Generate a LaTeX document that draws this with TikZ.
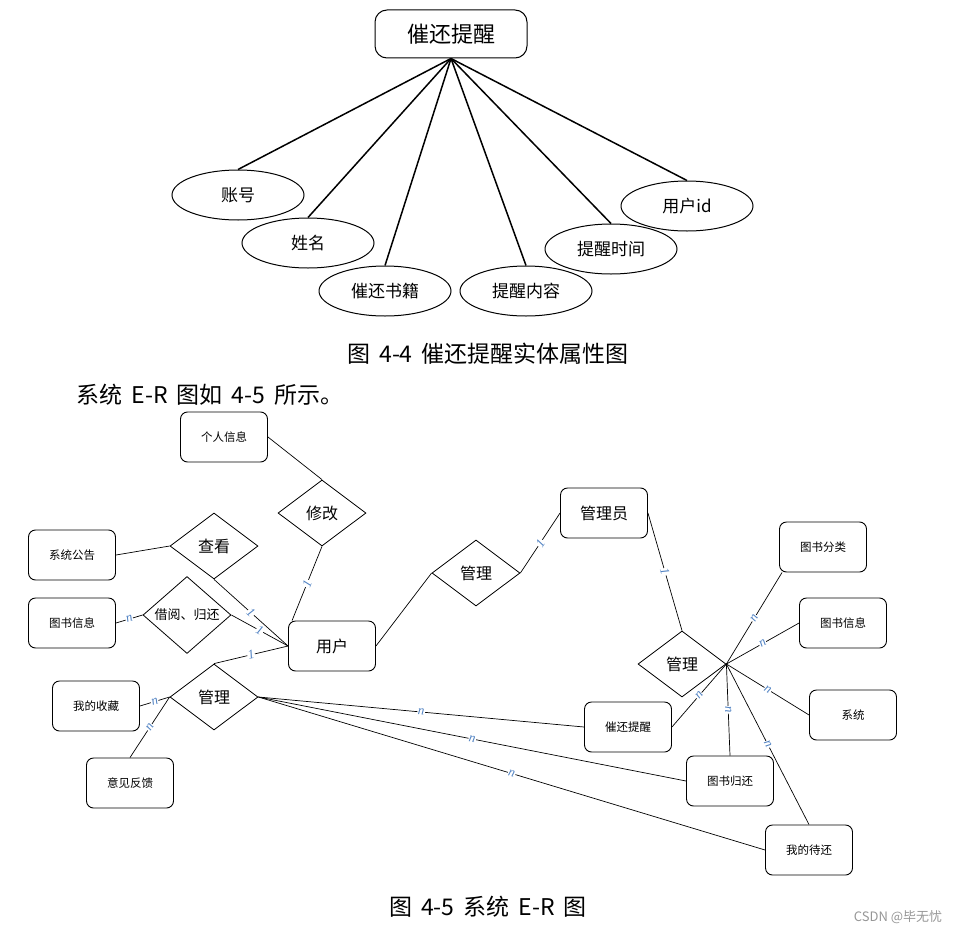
\documentclass[tikz,border=0pt]{standalone}
\usepackage{fontspec}
\newfontfamily\cjk{Noto Sans CJK SC}
\newfontfamily\cardf{Liberation Serif}
\usetikzlibrary{shapes.geometric}
\definecolor{cardblue}{RGB}{80,130,195}
\definecolor{wmgray}{RGB}{150,150,150}
\newcommand\gapsp{\hspace{9pt}}
\begin{document}
\begin{tikzpicture}[x=1pt,y=-1pt,
  ent/.style={draw, rounded corners=7pt, line width=0.9pt, minimum width=87pt, minimum height=50pt, inner sep=0pt, font=\cjk\fontsize{11.5}{12}\selectfont},
  bigent/.style={ent, font=\cjk\fontsize{16}{16}\selectfont},
  rel/.style={diamond, draw, line width=0.8pt, minimum width=88pt, minimum height=66pt, inner sep=0pt, font=\cjk\fontsize{16}{16}\selectfont},
  attr/.style={ellipse, draw, line width=1pt, minimum width=132pt, minimum height=50pt, inner sep=0pt, font=\cjk\fontsize{17}{17}\selectfont},
  spoke/.style={line width=1.5pt},
  conn/.style={line width=0.7pt},
  card/.style={font=\cardf\itshape\fontsize{13}{13}\selectfont, text=cardblue, sloped, inner sep=0.5pt, fill=white},
  capt/.style={font=\cjk\fontsize{23}{23}\selectfont}
]
\useasboundingbox (0,0) rectangle (963,934);

% ---------- attribute diagram ----------
\node[draw, rounded corners=12pt, line width=1pt, minimum width=152pt, minimum height=48pt, inner sep=0pt,
      font=\cjk\fontsize{22}{22}\selectfont] (cr) at (451,34) {催还提醒};
\node[attr] (zh)  at (238,195) {账号};
\node[attr] (xm)  at (308,243) {姓名};
\node[attr] (cs)  at (385,291) {催还书籍};
\node[attr] (tn)  at (526,291) {提醒内容};
\node[attr] (ts)  at (611,249) {提醒时间};
\node[attr] (yid) at (687,206) {用户id};
\foreach \n in {zh,xm,cs,tn,ts,yid}
  \draw[spoke] (cr.south) -- (\n.north);

\node[capt] (cap1) at (488,354) {图\gapsp 4-4\gapsp 催还提醒实体属性图};
\node[capt, anchor=west] (para) at (73,395) {系统\gapsp E-R\gapsp 图如\gapsp 4-5\gapsp 所示。};

% ---------- E-R diagram ----------
\node[ent] (gr)  at (224,437) {个人信息};
\node[rel] (xg)  at (322,513) {修改};
\node[rel] (ck)  at (214,546) {查看};
\node[ent] (xt)  at (72,555)  {系统公告};
\node[ent] (ts1) at (72,623)  {图书信息};
\node[rel, font=\cjk\fontsize{13}{13}\selectfont] (jy) at (187,615) {借阅、归还};
\node[bigent] (yh) at (332,646) {用户};
\node[rel] (gl1) at (214,697) {管理};
\node[ent] (sc)  at (96,706)  {我的收藏};
\node[ent] (yj)  at (130,783) {意见反馈};
\node[rel] (gl2) at (476,573) {管理};
\node[bigent] (gly) at (604,513) {管理员};
\node[rel] (gl3) at (682,664) {管理};
\node[ent] (fl)  at (823,547) {图书分类};
\node[ent] (ts2) at (843,623) {图书信息};
\node[ent] (xtt) at (853,715) {系统};
\node[ent] (dh)  at (809,850) {我的待还};
\node[ent] (gh)  at (730,781) {图书归还};
\node[ent] (cx)  at (628,727) {催还提醒};

\draw[conn] (gr.east) -- (xg.north);
\draw[conn] (xg.south) -- node[card]{1} ([xshift=4pt]yh.north west);
\draw[conn] (xt.east) -- (ck.west);
\draw[conn] (ck.south) -- node[card]{1} (yh.west);
\draw[conn] (ts1.east) -- node[card]{n} (jy.west);
\draw[conn] (jy.east) -- node[card]{1} (yh.west);
\draw[conn] (gl1.north) -- node[card]{1} (yh.west);
\draw[conn] (sc.east) -- node[card]{n} (gl1.west);
\draw[conn] (yj.north) -- node[card]{n} (gl1.west);
\draw[conn] (gl1.east) -- node[card]{n} (cx.west);
\draw[conn] (gl1.east) -- node[card]{n} (gh.west);
\draw[conn] (gl1.east) -- node[card]{n} (dh.west);
\draw[conn] (yh.east) -- (gl2.west);
\draw[conn] (gl2.east) -- node[card]{1} (gly.west);
\draw[conn] (gly.east) -- node[card]{1} (gl3.north);
\draw[conn] (gl3.east) -- node[card]{n} ([xshift=3pt]fl.south west);
\draw[conn] (gl3.east) -- node[card]{n} (ts2.west);
\draw[conn] (gl3.east) -- node[card]{n} (xtt.west);
\draw[conn] (gl3.east) -- node[card]{n} (dh.north);
\draw[conn] (gl3.east) -- node[card]{n} (gh.north);
\draw[conn] (gl3.east) -- node[card]{n} (cx.east);

\node[capt] (cap2) at (488,907) {图\gapsp 4-5\gapsp 系统\gapsp E-R\gapsp 图};
\node[font=\cjk\fontsize{13}{13}\selectfont, text=wmgray] (wm) at (898,917) {CSDN @毕无忧};
\end{tikzpicture}
\end{document}
